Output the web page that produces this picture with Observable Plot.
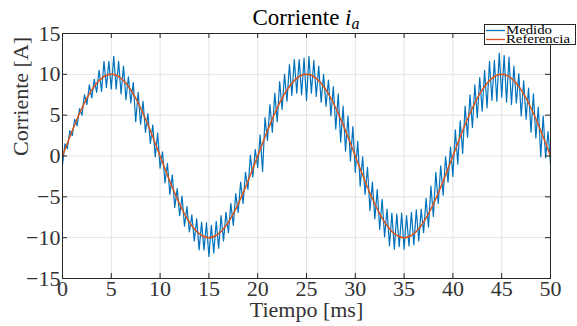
<!DOCTYPE html>
<html><head><meta charset="utf-8">
<script src="https://cdn.jsdelivr.net/npm/d3@7"></script>
<script src="https://cdn.jsdelivr.net/npm/@observablehq/plot@0.6"></script>
<style>html,body{margin:0;padding:0;background:#fff} svg{display:block}
#chart svg text{font-family:"Liberation Serif","Times New Roman",serif}</style>
</head><body><div id="chart"></div>
<script>
// ---- data ----
const xTicks = [0, 5, 10, 15, 20, 25, 30, 35, 40, 45, 50];
const yTicks = [-15, -10, -5, 0, 5, 10, 15];

// Referencia, sampled every 1 ms (A)
const tiempoRef = [0,1,2,3,4,5,6,7,8,9,10,11,12,13,14,15,16,17,18,19,20,21,22,23,24,25,26,27,28,29,30,31,32,33,34,35,36,37,38,39,40,41,42,43,44,45,46,47,48,49,50];
const referencia = [0,3.09,5.88,8.09,9.51,10,9.51,8.09,5.88,3.09,0,-3.09,-5.88,-8.09,-9.51,-10,-9.51,-8.09,-5.88,-3.09,
  0,3.09,5.88,8.09,9.51,10,9.51,8.09,5.88,3.09,0,-3.09,-5.88,-8.09,-9.51,-10,-9.51,-8.09,-5.88,-3.09,
  0,3.09,5.88,8.09,9.51,10,9.51,8.09,5.88,3.09,0];

const pasoMedido = 0.25;
const medido = [
  -1.1, 1.5, 0.9, 3.1, 2.5, 4.5, 3.7, 5.8, 5.0, 7.5,
  6.3, 8.7, 7.1, 9.4, 7.8, 10.5, 7.9, 11.6, 8.4, 11.6,
  8.2, 12.2, 8.2, 11.6, 7.6, 11.0, 6.9, 9.7, 6.5, 9.0,
  4.2, 7.8, 3.9, 6.7, 2.9, 5.2, 1.5, 3.8, -0.1, 2.8,
  -1.5, 0.5, -3.3, -0.9, -4.7, -2.3, -6.3, -4.0, -7.3, -4.9,
  -8.6, -6.2, -9.3, -7.2, -10.4, -7.7, -11.5, -8.1, -11.5, -8.2,
  -12.3, -8.5, -11.9, -8.0, -11.3, -7.3, -10.4, -6.9, -9.4, -5.8,
  -8.5, -4.6, -6.9, -3.2, -5.8, -2.0, -4.1, 0.1, -2.6, 0.8,
  -1.4, 2.6, -1.9, 4.7, 1.9, 6.3, 2.9, 7.7, 4.2, 9.1,
  5.7, 10.0, 6.7, 11.2, 7.4, 11.8, 7.7, 11.8, 7.5, 12.0,
  6.8, 12.2, 7.7, 11.7, 7.3, 11.0, 6.6, 10.0, 6.1, 9.3,
  4.9, 8.5, 3.3, 7.6, 1.7, 6.1, 0.6, 4.9, -0.6, 3.6,
  -2.0, 1.8, -3.7, -0.1, -4.7, -1.4, -6.7, -3.2, -7.7, -4.1,
  -9.0, -5.3, -9.9, -6.5, -11.0, -7.0, -11.4, -7.1, -11.1, -7.0,
  -11.4, -7.3, -11.0, -6.9, -10.9, -6.6, -10.4, -6.5, -9.4, -5.2,
  -8.7, -3.7, -7.4, -2.0, -5.8, -1.2, -4.8, -0.1, -3.2, 1.1,
  -2.5, 3.2, -1.0, 4.3, 0.3, 6.1, 2.3, 7.5, 3.5, 8.7,
  4.7, 9.6, 5.5, 10.5, 5.9, 11.6, 6.8, 11.7, 6.7, 12.6,
  7.2, 12.3, 6.6, 12.1, 6.3, 11.0, 6.5, 10.1, 4.9, 9.2,
  4.5, 8.3, 2.9, 7.6, 2.2, 6.0, -0.1, 4.9, -0.2, 3.0,
  -1.0
];
const series = ["Medido", "Referencia"];
const colors = ["#0072BD", "#D95319"];

// ---- layout ----
const W = 577, H = 326, mL = 62, mR = 27, mT = 33, mB = 48;
const fw = W - mL - mR, fh = H - mT - mB;
const serif = '"Liberation Serif","Times New Roman",serif';
const axisColor = "#262626";
const labelColor = "#333333";

const medidoData = medido.map((v, i) => ({t: i * pasoMedido, v}));
const refData = referencia.map((v, i) => ({t: tiempoRef[i], v}));

const plot = Plot.plot({
  width: W, height: H,
  marginLeft: mL, marginRight: mR, marginTop: mT, marginBottom: mB,
  style: {fontFamily: serif, background: "#fff", color: labelColor, overflow: "visible"},
  x: {domain: [0, 50]},
  y: {domain: [-15, 15]},
  marks: [
    Plot.gridX(xTicks, {stroke: "#e3e3e3", strokeOpacity: 1}),
    Plot.gridY(yTicks, {stroke: "#e3e3e3", strokeOpacity: 1}),
    Plot.line(medidoData, {x: "t", y: "v", stroke: colors[0], strokeWidth: 1.2}),
    Plot.line(refData, {x: "t", y: "v", stroke: colors[1], strokeWidth: 1.5, curve: "natural"}),
    Plot.frame({stroke: axisColor, strokeWidth: 1}),
    Plot.tickX(xTicks, {x: d => d, insetTop: fh - 5, stroke: axisColor}),
    Plot.tickX(xTicks, {x: d => d, insetBottom: fh - 5, stroke: axisColor}),
    Plot.tickY(yTicks, {y: d => d, insetRight: fw - 5, stroke: axisColor}),
    Plot.tickY(yTicks, {y: d => d, insetLeft: fw - 5, stroke: axisColor}),
    Plot.axisX(xTicks, {tickSize: 0, tickPadding: 2, fontSize: 22, label: null, fill: labelColor}),
    Plot.axisY(yTicks, {tickSize: 0, tickPadding: 2, fontSize: 22, label: null, fill: labelColor}),
    Plot.text(["Tiempo [ms]"], {frameAnchor: "bottom", dy: 38, fontSize: 22, fill: labelColor}),
    Plot.text(["Corriente [A]"], {frameAnchor: "left", rotate: -90, dx: -42, fontSize: 22, fill: labelColor})
  ]
});

const svg = d3.select(plot);
// title
const title = svg.append("text")
  .attr("x", mL + fw / 2).attr("y", 25)
  .attr("text-anchor", "middle")
  .attr("font-family", serif).attr("font-size", 23).attr("fill", "#000");
title.append("tspan").text("Corriente ");
title.append("tspan").attr("font-style", "italic").text("i");
title.append("tspan").attr("font-style", "italic").attr("font-size", 16).attr("dy", 4).text("a");

// legend
const lg = svg.append("g").attr("font-family", serif).attr("font-size", 12.5).attr("text-anchor", "start");
lg.append("rect").attr("x", 484.5).attr("y", 24.5).attr("width", 91).attr("height", 20)
  .attr("fill", "#fff").attr("stroke", axisColor);
const legendWidths = [46, 64];
series.forEach((s, i) => {
  const yy = 30.5 + i * 9;
  lg.append("line").attr("x1", 486).attr("x2", 505).attr("y1", yy).attr("y2", yy)
    .attr("stroke", colors[i]).attr("stroke-width", 1.3);
  lg.append("text").attr("x", 506).attr("y", yy + 3.5).attr("fill", "#000")
    .attr("textLength", legendWidths[i]).attr("lengthAdjust", "spacingAndGlyphs")
    .attr("text-anchor", "start").text(s);
});

document.getElementById("chart").appendChild(plot);
</script>
</body></html>
